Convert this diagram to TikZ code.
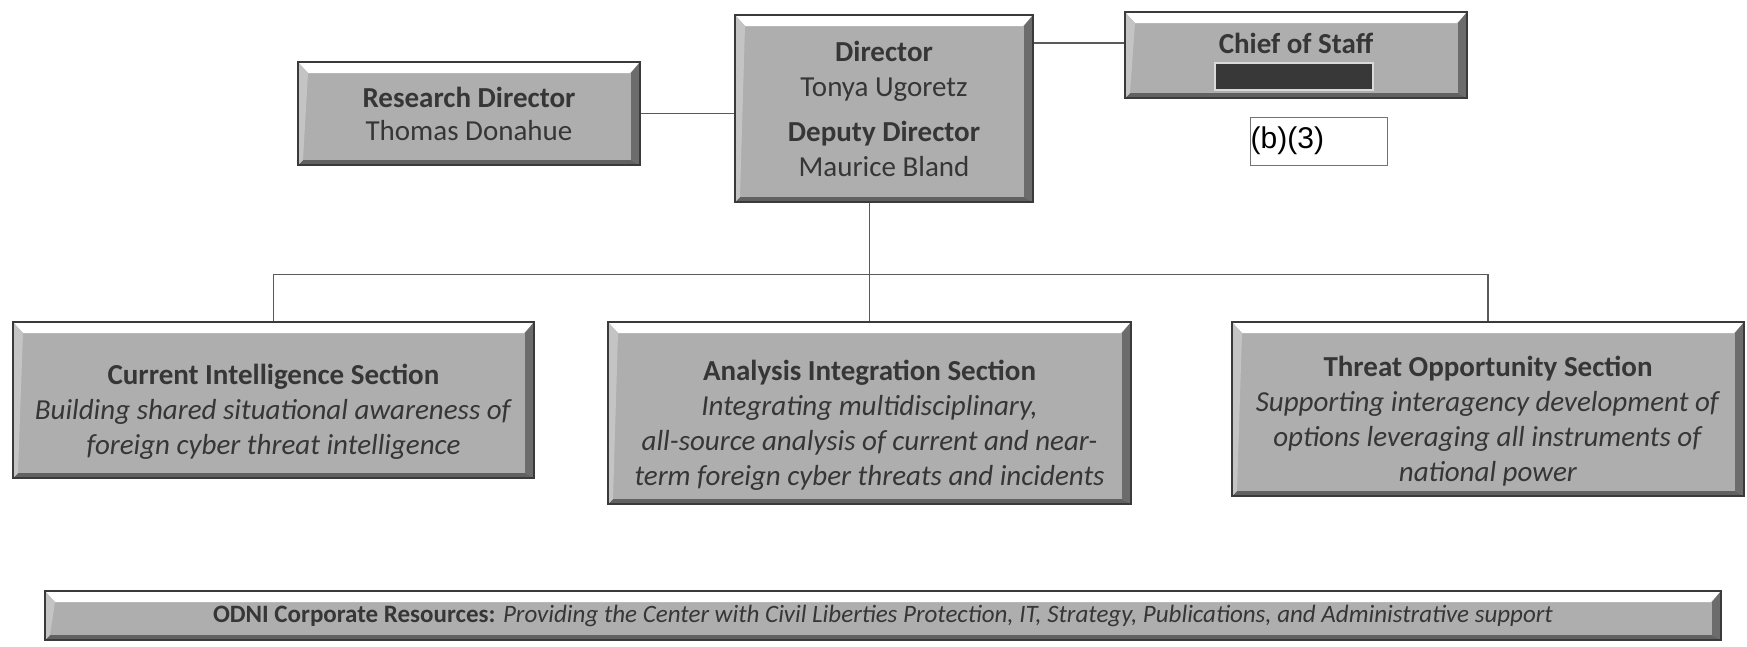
\documentclass[tikz,border=0pt]{standalone}
\usepackage{fontspec}
\setmainfont{Carlito}
\newfontfamily\arialfont{Liberation Sans}
\usepackage{tikz}

\definecolor{boxfill}{HTML}{AEAEAE}
\definecolor{boxedge}{HTML}{3A3A3A}
\definecolor{bevdark}{HTML}{6C6C6C}
\definecolor{bevlite}{HTML}{C4C4C4}
\definecolor{txtdark}{HTML}{363636}
\definecolor{linegray}{HTML}{5A5A5A}

\tikzset{
	bevel/.style={draw=boxedge,line width=1.6pt,fill=boxfill,rectangle,inner sep=0pt,
		text=txtdark,align=center,
		path picture={
			\def\pp{path picture bounding box}
			\fill[white] (\pp.north west) -- (\pp.north east) -- ([xshift=-10pt,yshift=-11pt]\pp.north east) -- ([xshift=10pt,yshift=-11pt]\pp.north west) -- cycle;
			\fill[bevdark] (\pp.north east) -- (\pp.south east) -- ([xshift=-9pt,yshift=5pt]\pp.south east) -- ([xshift=-9pt,yshift=-11pt]\pp.north east) -- cycle;
			\fill[black!62] (\pp.south west) -- (\pp.south east) -- ([xshift=-9pt,yshift=5pt]\pp.south east) -- ([xshift=5pt,yshift=5pt]\pp.south west) -- cycle;
			\fill[bevlite] (\pp.north west) -- ([xshift=10pt,yshift=-11pt]\pp.north west) -- ([xshift=5pt,yshift=5pt]\pp.south west) -- (\pp.south west) -- cycle;
		}},
	conn/.style={draw=linegray,line width=1.4pt},
	big/.style={font=\fontsize{29}{35}\selectfont},
	small/.style={font=\fontsize{25}{29}\selectfont},
	sectext/.style={big,text=txtdark,align=center,inner sep=0pt}
}

\begin{document}
\begin{tikzpicture}[x=1pt,y=-1pt]
\useasboundingbox (0,0) rectangle (1747,646);

%top row
\node[bevel,big,minimum width=342pt,minimum height=103pt] (research) at (469,113.5)
	{\textbf{Research Director}\\[-2pt]Thomas Donahue};
\node[bevel,big,minimum width=298pt,minimum height=187pt] (director) at (884,108.5)
	{\textbf{Director}\\Tonya Ugoretz\\[10pt]\textbf{Deputy Director}\\Maurice Bland};
\node[bevel,minimum width=342pt,minimum height=86pt] (chief) at (1296,55) {};
\node[big,text=txtdark,anchor=north] (chieftitle) at ([yshift=-18pt]chief.north) {\textbf{Chief of Staff}};
\node[draw=white!85!black,line width=1.2pt,fill=black!78,minimum width=158pt,minimum height=27pt,inner sep=0pt] (redact) at (1294,76.5) {};
\node[draw=black!55,line width=1pt,fill=white,minimum width=137pt,minimum height=48pt,inner sep=0pt] (bthree) at (1318.5,141) {};
\node[anchor=west,inner sep=1pt,font=\arialfont\fontsize{30}{34}\selectfont] (bthreetext) at (bthree.west) {(b)(3)};

%sections
\node[bevel,minimum width=521pt,minimum height=156pt] (current) at (273.5,400) {};
\node[bevel,minimum width=523pt,minimum height=182pt] (analysis) at (869.5,413) {};
\node[bevel,minimum width=512pt,minimum height=174pt] (threat) at (1488,409) {};
\node[sectext] (currenttext) at ([yshift=-12pt]current.center)
	{\textbf{Current Intelligence Section}\\\textit{Building shared situational awareness of}\\\textit{foreign cyber threat intelligence}};
\node[sectext] (analysistext) at ([yshift=-12pt]analysis.center)
	{\textbf{Analysis Integration Section}\\\textit{Integrating multidisciplinary,}\\\textit{all-source analysis of current and near-}\\\textit{term foreign cyber threats and incidents}};
\node[sectext] (threattext) at ([yshift=-12pt]threat.center)
	{\textbf{Threat Opportunity Section}\\\textit{Supporting interagency development of}\\\textit{options leveraging all instruments of}\\\textit{national power}};

%bottom bar
\node[bevel,small,minimum width=1676pt,minimum height=49pt] (odni) at (883,615.5)
	{\textbf{ODNI Corporate Resources:} \textit{Providing the Center with Civil Liberties Protection, IT, Strategy, Publications, and Administrative support}};

%lines
\draw[conn] (research.east) -- (research.east -| director.west);
\draw[conn] ([yshift=12pt]chief.west) -- ([yshift=12pt]chief.west -| director.east);
\draw[conn] (director.south -| analysis.north) -- (analysis.north);
\draw[conn] (current.north) -- ++(0,-47) -| (threat.north);
\end{tikzpicture}
\end{document}
